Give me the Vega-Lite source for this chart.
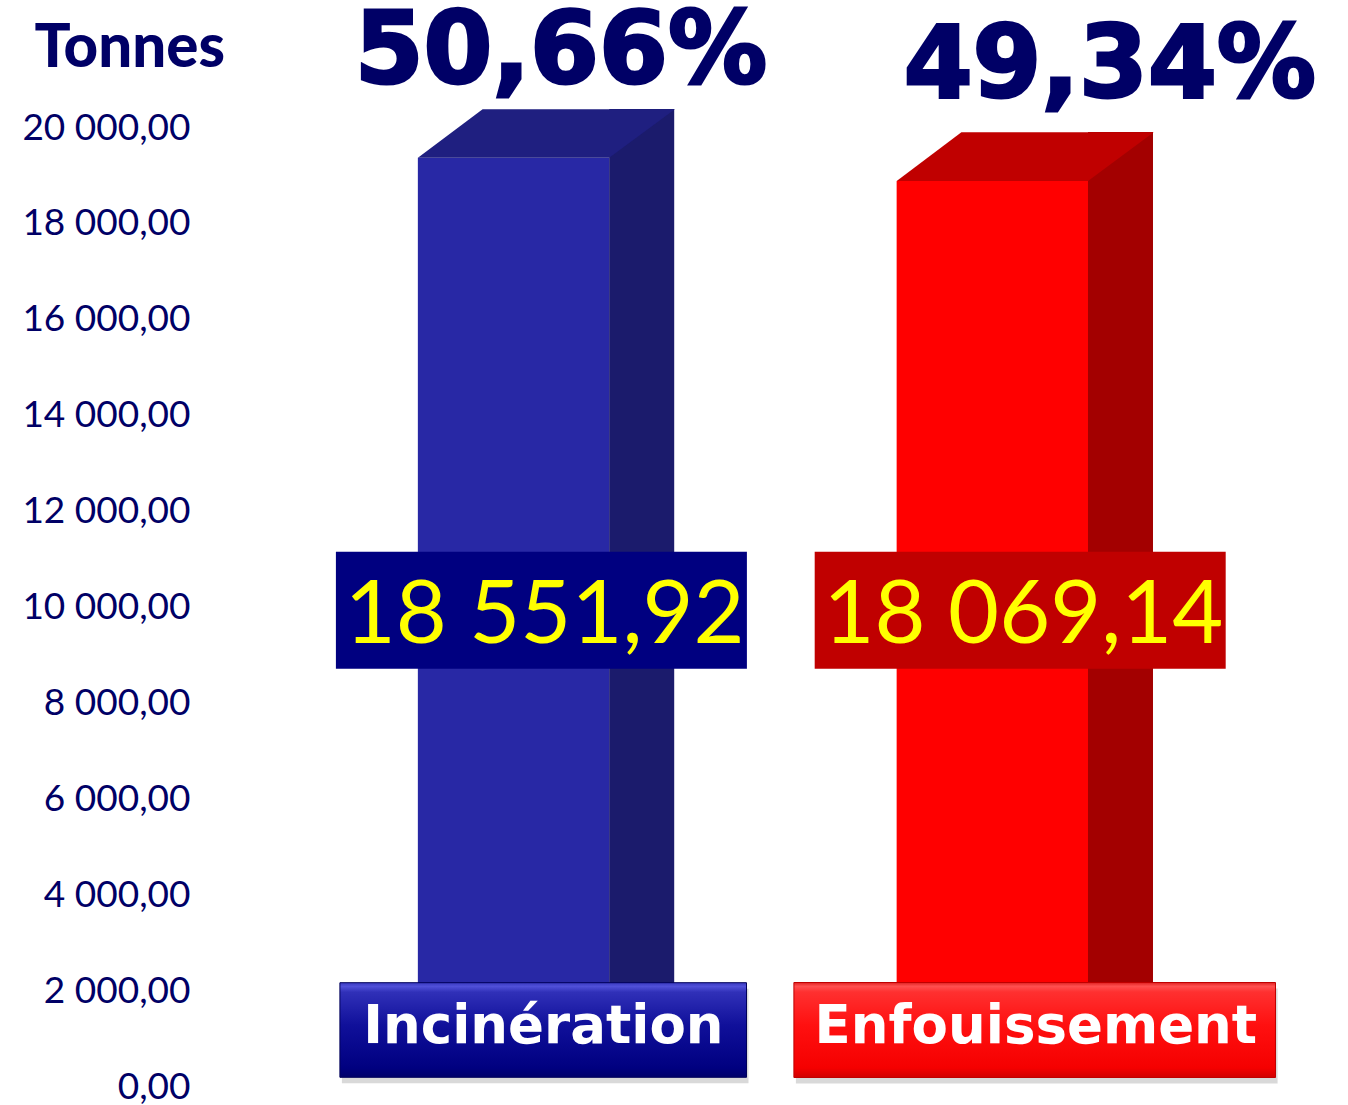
{
  "$schema": "https://vega.github.io/schema/vega-lite/v6.json",
  "width": 1106,
  "height": 959,
  "autosize": "none",
  "padding": {"left": 200, "right": 42, "top": 128, "bottom": 18},
  "background": "white",
  "config": {
    "view": {"stroke": null},
    "locale": {"number": {"decimal": ",", "thousands": " ", "grouping": [3], "currency": ["", " €"]}}
  },
  "data": {"values": [
    {"cat": "Incinération", "value": 18551.92, "pct": 0.5066},
    {"cat": "Enfouissement", "value": 18069.14, "pct": 0.4934}
  ]},
  "encoding": {
    "x": {"field": "cat", "type": "nominal", "scale": {"domain": ["Incinération", "Enfouissement"], "paddingInner": 0, "paddingOuter": 0.155}, "axis": null},
    "y": {"field": "value", "type": "quantitative", "scale": {"domain": [0, 20000], "nice": false, "zero": true},
      "axis": {"values": [0, 2000, 4000, 6000, 8000, 10000, 12000, 14000, 16000, 18000, 20000], "format": ",.2f",
        "domain": false, "ticks": false, "grid": false, "labelFont": "Lato", "labelFontSize": 37, "labelColor": "#000066", "labelPadding": 10,
        "title": "Tonnes", "titleAngle": 0, "titleFont": "Lato", "titleFontWeight": 900, "titleFontSize": 60, "titleColor": "#000066",
        "titleAlign": "left", "titleBaseline": "alphabetic", "titleX": -166, "titleY": -62}}
  },
  "layer": [
    {"mark": {"type": "bar", "width": 191.5, "yOffset": -39.6, "y2Offset": -40},
     "encoding": {"color": {"field": "cat", "type": "nominal", "scale": {"domain": ["Incinération", "Enfouissement"], "range": ["#2828A5", "#FF0000"]}, "legend": null}}},
    {"mark": {"type": "bar", "width": 65, "xOffset": 128.1, "yOffset": -88.5, "y2Offset": -40},
     "encoding": {"color": {"field": "cat", "type": "nominal", "scale": {"domain": ["Incinération", "Enfouissement"], "range": ["#1B1B6C", "#A30000"]}, "legend": null}}},
    {"mark": {"type": "point", "shape": "M-95.7,0L-31,-48.7L161.3,-48.7L95.6,0Z", "size": 4, "filled": true, "opacity": 1, "strokeWidth": 0, "yOffset": -39.6},
     "encoding": {"color": {"field": "cat", "type": "nominal", "scale": {"domain": ["Incinération", "Enfouissement"], "range": ["#1F1F80", "#C00000"]}, "legend": null}}},
    {"transform": [{"filter": "datum.cat === 'Incinération'"}],
     "mark": {"type": "text", "font": "DejaVu Sans", "fontWeight": "bold", "fontSize": 99, "color": "#000066", "stroke": "#000066", "strokeWidth": 3, "align": "center", "baseline": "alphabetic", "dx": 47.3, "dy": -114.4},
     "encoding": {"text": {"field": "pct", "type": "quantitative", "format": ".2%"}}},
    {"transform": [{"filter": "datum.cat === 'Enfouissement'"}],
     "mark": {"type": "text", "font": "DejaVu Sans", "fontWeight": "bold", "fontSize": 99, "color": "#000066", "stroke": "#000066", "strokeWidth": 3, "align": "center", "baseline": "alphabetic", "dx": 117.5, "dy": -123.6},
     "encoding": {"text": {"field": "pct", "type": "quantitative", "format": ".2%"}}},
    {"mark": {"type": "point", "shape": "M-205.5,-58.5H205.5V58.5H-205.5Z", "size": 4, "filled": true, "opacity": 1, "strokeWidth": 0, "xOffset": 27.8, "yOffset": 2.7},
     "encoding": {"y": {"datum": 10000}, "color": {"field": "cat", "type": "nominal", "scale": {"domain": ["Incinération", "Enfouissement"], "range": ["#000080", "#C00000"]}, "legend": null}}},
    {"mark": {"type": "text", "font": "Lato", "fontSize": 88, "color": "#FFFF00", "align": "center", "baseline": "alphabetic", "dx": 31, "dy": 35.8},
     "encoding": {"y": {"datum": 10000}, "text": {"field": "value", "type": "quantitative", "format": ",.2f"}}},
    {"mark": {"type": "point", "size": 4, "filled": true, "opacity": 0.3, "fill": "#808080", "strokeWidth": 0, "yOffset": -51, "xOffset": 2},
     "encoding": {"y": {"datum": 0}, "shape": {"field": "cat", "type": "nominal", "scale": {"domain": ["Incinération", "Enfouissement"], "range": ["M-173.7,-47.3H232.9V47.3H-173.7Z", "M-198.5,-47.5H283.2V47.5H-198.5Z"]}, "legend": null}}},
    {"transform": [{"filter": "datum.cat === 'Incinération'"}],
     "mark": {"type": "point", "shape": "M-203.3,-47.3H203.3V47.3H-203.3Z", "size": 4, "filled": true, "opacity": 1, "stroke": "#00005A", "strokeWidth": 1, "xOffset": 29.6, "yOffset": -57,
       "fill": {"gradient": "linear", "x1": 0, "y1": 0, "x2": 0, "y2": 1, "stops": [
         {"offset": 0, "color": "#3A3AC0"}, {"offset": 0.04, "color": "#5050D8"}, {"offset": 0.1, "color": "#3030B8"},
         {"offset": 0.45, "color": "#10109A"}, {"offset": 0.9, "color": "#000080"}, {"offset": 1, "color": "#00006A"}]}},
     "encoding": {"y": {"datum": 0}}},
    {"transform": [{"filter": "datum.cat === 'Enfouissement'"}],
     "mark": {"type": "point", "shape": "M-240.8,-47.5H240.8V47.5H-240.8Z", "size": 4, "filled": true, "opacity": 1, "stroke": "#C00000", "strokeWidth": 1, "xOffset": 42.3, "yOffset": -57,
       "fill": {"gradient": "linear", "x1": 0, "y1": 0, "x2": 0, "y2": 1, "stops": [
         {"offset": 0, "color": "#E02020"}, {"offset": 0.04, "color": "#FF5050"}, {"offset": 0.1, "color": "#FF3030"},
         {"offset": 0.45, "color": "#FF1010"}, {"offset": 0.9, "color": "#F50000"}, {"offset": 1, "color": "#D00000"}]}},
     "encoding": {"y": {"datum": 0}}},
    {"transform": [{"filter": "datum.cat === 'Incinération'"}],
     "mark": {"type": "text", "font": "DejaVu Sans", "fontWeight": "bold", "fontSize": 53, "color": "white", "align": "center", "baseline": "alphabetic", "dx": 29.8, "dy": -43.7},
     "encoding": {"y": {"datum": 0}, "text": {"field": "cat", "type": "nominal"}}},
    {"transform": [{"filter": "datum.cat === 'Enfouissement'"}],
     "mark": {"type": "text", "font": "DejaVu Sans", "fontWeight": "bold", "fontSize": 53, "color": "white", "align": "center", "baseline": "alphabetic", "dx": 43.5, "dy": -43.7},
     "encoding": {"y": {"datum": 0}, "text": {"field": "cat", "type": "nominal"}}}
  ],
  "resolve": {"scale": {"color": "independent"}}
}
